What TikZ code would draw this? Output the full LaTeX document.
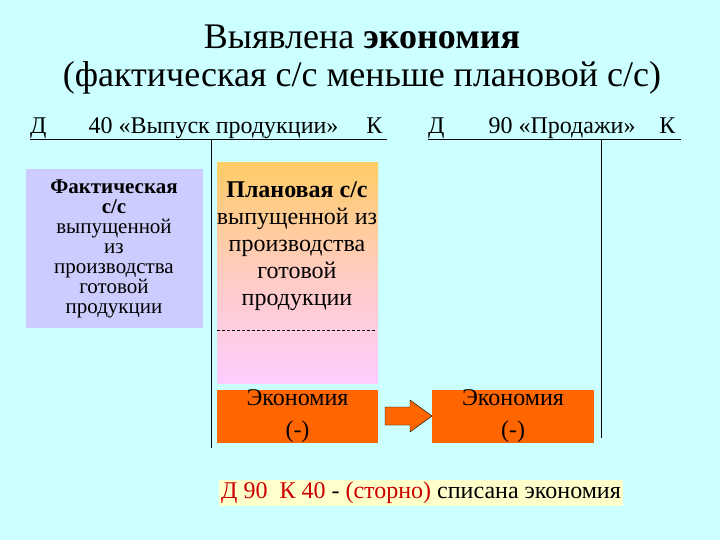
\documentclass[tikz,border=0pt]{standalone}
\usepackage{fontspec}
\setmainfont{Liberation Serif}
\definecolor{bg}{HTML}{CCFFFF}
\definecolor{blu}{HTML}{CCCCFF}
\definecolor{org}{HTML}{FF6600}
\definecolor{gold}{HTML}{FFCC66}
\definecolor{pnk}{HTML}{FFCCFF}
\definecolor{hl}{HTML}{FFFFCC}
\definecolor{dred}{HTML}{CC0000}
\begin{document}
\begin{tikzpicture}[x=1pt,y=-1pt,
  txt/.style={font=\fontsize{24}{26}\selectfont, align=center, inner sep=0pt},
  acc/.style={line width=1pt}]
\fill[bg] (0,0) rectangle (720,540);
\useasboundingbox (0,0) rectangle (720,540);
\node[font=\fontsize{36}{38}\selectfont, align=center] (title) at (362,60) {Выявлена \textbf{экономия}\\(фактическая с/с меньше плановой с/с)};
\node[txt, anchor=base west] (h1) at (30,134) {Д\hspace{42pt}40 «Выпуск продукции»\hspace{28pt}К};
\node[txt, anchor=base west] (h2) at (428,134) {Д\hspace{44pt}90 «Продажи»\hspace{24pt}К};
\coordinate (l1a) at (30,140); \coordinate (l1b) at (387,140);
\coordinate (l2a) at (428,140); \coordinate (l2b) at (681,140);
\coordinate (v1a) at (211,140); \coordinate (v1b) at (211,448);
\coordinate (v2a) at (601,140); \coordinate (v2b) at (601,438);
\draw[acc] (l1a) -- (l1b); \draw[acc] (l2a) -- (l2b);
\draw (v1a) -- (v1b); \draw (v2a) -- (v2b);
\fill[blu] (26,169) rectangle (203,328);
\node[txt, font=\fontsize{21}{20}\selectfont] (fact) at (114,249) {\textbf{Фактическая}\\\textbf{с/с}\\выпущенной\\из\\производства\\готовой\\продукции};
\shade[top color=gold, bottom color=pnk, middle color=pnk!60!gold] (217,163) rectangle (378,383);
\draw[dashed, dash pattern=on 3pt off 2pt] (217,330) -- (376,330);
\node[txt] (plan) at (297,246) {\textbf{Плановая с/с}\\[1pt]выпущенной из\\[1pt]производства\\[1pt]готовой\\[1pt]продукции};
\node[txt, fill=org, minimum width=161pt, minimum height=53pt] (e1) at (297.5,416.5) {Экономия\\[6pt](-)};
\node[txt, fill=org, minimum width=162pt, minimum height=53pt] (e2) at (513,416.5) {Экономия\\[6pt](-)};
\draw[fill=org] (385,407) -- (410,407) -- (410,400) -- (432,416) -- (410,432) -- (410,425) -- (385,425) -- cycle;
\node[txt, fill=hl, inner sep=2pt, anchor=west] (post) at (219,493) {\textcolor{dred}{Д 90\ \ К 40} - \textcolor{dred}{(сторно)} списана экономия};
\end{tikzpicture}
\end{document}
